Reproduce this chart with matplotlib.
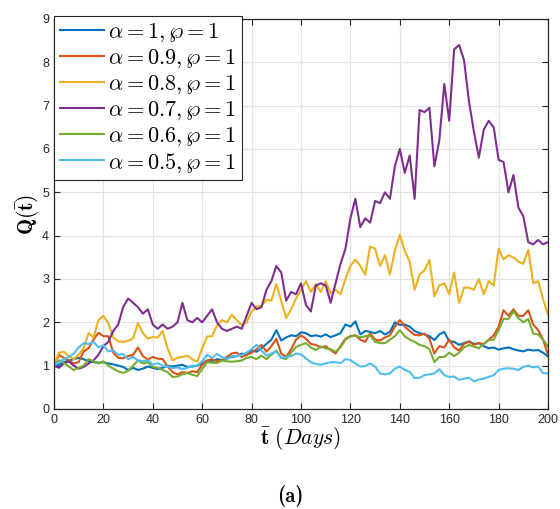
import numpy as np
import matplotlib
matplotlib.use("Agg")
import matplotlib.pyplot as plt
from matplotlib.font_manager import FontProperties
import os

plt.rcParams['mathtext.fontset'] = 'cm'
plt.rcParams['font.family'] = ['Liberation Sans', 'DejaVu Sans']

days = list(range(0, 201, 2))

q_a10 = [1.0, 1.02, 1.08, 1.12, 1.15, 1.18, 1.15, 1.1, 1.08, 1.07, 1.08, 1.05, 1.03, 1.0, 0.97, 0.9, 0.95, 0.9, 0.93, 0.98,
         0.95, 0.92, 0.95, 1.0, 0.98, 1.0, 1.02, 0.97, 0.98, 1.0, 1.05, 1.12, 1.1, 1.15, 1.13, 1.18, 1.2, 1.22, 1.28, 1.25,
         1.35, 1.32, 1.4, 1.5, 1.6, 1.82, 1.58, 1.65, 1.7, 1.68, 1.77, 1.75, 1.68, 1.7, 1.67, 1.72, 1.66, 1.7, 1.75, 1.95,
         1.9, 2.02, 1.72, 1.8, 1.78, 1.75, 1.8, 1.72, 1.78, 2.0, 1.94, 1.95, 1.9, 1.8, 1.75, 1.72, 1.68, 1.59, 1.72, 1.78,
         1.56, 1.55, 1.48, 1.52, 1.56, 1.5, 1.52, 1.45, 1.4, 1.42, 1.37, 1.4, 1.42, 1.38, 1.35, 1.33, 1.37, 1.35, 1.36, 1.3,
         1.21]
q_a09 = [1.0, 1.25, 1.18, 1.12, 1.05, 1.08, 1.33, 1.4, 1.6, 1.76, 1.68, 1.68, 1.3, 1.18, 1.17, 1.22, 1.25, 1.42, 1.22, 1.14,
         1.2, 1.16, 1.15, 0.98, 0.85, 0.8, 0.85, 0.83, 0.87, 0.85, 1.02, 1.12, 1.15, 1.1, 1.13, 1.2, 1.28, 1.3, 1.2, 1.25,
         1.3, 1.38, 1.48, 1.32, 1.45, 1.62, 1.28, 1.2, 1.38, 1.6, 1.7, 1.62, 1.5, 1.48, 1.42, 1.45, 1.36, 1.28, 1.45, 1.62,
         1.68, 1.7, 1.6, 1.55, 1.75, 1.6, 1.58, 1.65, 1.7, 1.9, 2.05, 1.9, 1.8, 1.71, 1.7, 1.74, 1.62, 1.28, 1.45, 1.42,
         1.6, 1.42, 1.35, 1.5, 1.56, 1.48, 1.52, 1.5, 1.6, 1.7, 1.9, 2.28, 2.15, 2.3, 2.15, 2.15, 2.28, 1.95, 1.82, 1.6,
         1.25]
q_a08 = [1.0, 1.3, 1.32, 1.22, 1.15, 1.25, 1.4, 1.75, 1.65, 2.05, 2.15, 1.98, 1.65, 1.56, 1.55, 1.57, 1.63, 1.98, 1.75, 1.62,
         1.66, 1.65, 1.8, 1.4, 1.12, 1.18, 1.2, 1.23, 1.15, 1.09, 1.4, 1.67, 1.68, 1.93, 2.05, 2.0, 2.17, 2.05, 1.94, 2.0,
         2.25, 2.36, 2.38, 2.52, 2.5, 2.88, 2.5, 2.1, 2.3, 2.55, 2.75, 2.95, 2.7, 2.88, 2.7, 2.95, 2.67, 2.75, 2.65, 3.0,
         3.3, 3.45, 3.3, 3.1, 3.75, 3.7, 3.3, 3.55, 3.1, 3.65, 4.02, 3.65, 3.4, 2.75, 3.1, 3.2, 3.44, 2.6, 2.85, 2.9,
         2.65, 3.15, 2.45, 2.8, 2.8, 2.75, 3.0, 2.65, 2.95, 2.85, 3.7, 3.45, 3.55, 3.5, 3.4, 3.35, 3.67, 2.9, 2.95, 2.54,
         2.17]
q_a07 = [1.0, 0.95, 1.05, 1.1, 1.0, 0.93, 0.97, 1.05, 1.12, 1.25, 1.45, 1.55, 1.8, 1.95, 2.35, 2.55, 2.45, 2.35, 2.2, 2.3,
         1.95, 1.85, 1.95, 1.85, 1.9, 2.0, 2.45, 2.05, 2.0, 2.1, 2.0, 2.15, 2.3, 2.0, 1.85, 1.8, 1.85, 1.9, 1.85, 2.15,
         2.45, 2.3, 2.35, 2.75, 2.95, 3.3, 3.15, 2.5, 2.7, 2.65, 2.9, 2.4, 2.25, 2.85, 2.9, 2.85, 2.45, 2.9, 3.35, 3.7,
         4.4, 4.85, 4.2, 4.4, 4.3, 4.8, 4.75, 5.0, 4.85, 5.6, 6.0, 5.45, 5.85, 4.85, 6.9, 6.85, 6.95, 5.6, 6.2, 7.5,
         6.65, 8.3, 8.4, 8.05, 7.1, 6.4, 5.8, 6.45, 6.65, 6.5, 5.75, 5.7, 5.0, 5.4, 4.65, 4.45, 3.85, 3.8, 3.9, 3.8,
         3.85]
q_a06 = [1.0, 1.12, 1.06, 0.98, 0.9, 0.95, 1.0, 1.15, 1.1, 1.05, 1.1, 1.0, 0.93, 0.87, 0.83, 0.88, 1.0, 1.12, 1.05, 1.08,
         0.97, 0.95, 0.9, 0.85, 0.74, 0.75, 0.8, 0.83, 0.79, 0.76, 0.92, 1.08, 1.07, 1.06, 1.12, 1.1, 1.09, 1.1, 1.12, 1.18,
         1.2, 1.15, 1.23, 1.15, 1.25, 1.35, 1.18, 1.15, 1.3, 1.43, 1.48, 1.52, 1.42, 1.36, 1.44, 1.4, 1.38, 1.32, 1.42, 1.6,
         1.67, 1.7, 1.65, 1.68, 1.7, 1.55, 1.52, 1.52, 1.6, 1.68, 1.82, 1.68, 1.6, 1.55, 1.48, 1.45, 1.38, 1.08, 1.2, 1.2,
         1.3, 1.22, 1.3, 1.42, 1.48, 1.44, 1.4, 1.5, 1.59, 1.6, 1.82, 2.08, 2.08, 2.25, 2.1, 2.0, 2.08, 1.74, 1.72, 1.6,
         1.44]
q_a05 = [1.0, 1.08, 1.15, 1.2, 1.28, 1.42, 1.52, 1.5, 1.55, 1.42, 1.47, 1.33, 1.35, 1.25, 1.27, 1.15, 1.2, 1.12, 1.1, 1.12,
         1.02, 1.06, 1.0, 0.98, 0.94, 0.96, 0.92, 0.95, 1.0, 1.0, 1.1, 1.25, 1.18, 1.27, 1.2, 1.15, 1.22, 1.22, 1.25, 1.3,
         1.38, 1.48, 1.35, 1.23, 1.28, 1.33, 1.18, 1.2, 1.22, 1.28, 1.26, 1.17, 1.08, 1.04, 1.02, 1.05, 1.08, 1.08, 1.06, 1.15,
         1.13, 1.05, 0.98, 0.99, 1.05, 0.98, 0.82, 0.8, 0.82, 0.93, 0.98, 0.9, 0.86, 0.71, 0.72, 0.78, 0.8, 0.82, 0.92, 0.78,
         0.74, 0.75, 0.67, 0.7, 0.72, 0.64, 0.68, 0.7, 0.74, 0.78, 0.9, 0.93, 0.94, 0.93, 0.9, 0.97, 1.0, 0.96, 0.98, 0.83,
         0.82]

series = [q_a10, q_a09, q_a08, q_a07, q_a06, q_a05]
labels = [r'$\alpha=1,\wp=1$', r'$\alpha=0.9,\wp=1$', r'$\alpha=0.8,\wp=1$',
          r'$\alpha=0.7,\wp=1$', r'$\alpha=0.6,\wp=1$', r'$\alpha=0.5,\wp=1$']
colors = ['#0072BD', '#D95319', '#EDB120', '#7E2F8E', '#77AC30', '#4DBEEE']
x_ticks = list(range(0, 201, 20))
y_ticks = list(range(0, 10))

fig = plt.figure(figsize=(5.6, 5.09), dpi=100)
ax = fig.add_axes([0.0964, 0.1965, 0.8822, 0.7662])
for ys, lab, c in zip(series, labels, colors):
    ax.plot(days, ys, color=c, lw=1.5, label=lab)

ax.set_xlim(0, 200)
ax.set_ylim(0, 9)
ax.set_xticks(x_ticks)
ax.set_yticks(y_ticks)
ax.grid(True, color='#e3e3e3', lw=0.9)
ax.set_axisbelow(True)
ax.tick_params(direction='in', top=True, right=True, labelsize=9,
               colors='#262626', length=4, width=0.8)
for s in ax.spines.values():
    s.set_color('#262626')
    s.set_linewidth(0.9)

ax.set_xlabel(r'$\bar{\mathbf{t}}\ (Days)$', fontsize=15.5, labelpad=0)
ax.set_ylabel(r'$\mathbf{Q}(\bar{\mathbf{t}})$', fontsize=15.5, labelpad=0)

leg = ax.legend(loc='upper left', bbox_to_anchor=(0.0, 1.008), fontsize=16,
                frameon=True, fancybox=False, framealpha=1.0,
                borderaxespad=0.0, handlelength=2.0, labelspacing=0.14,
                borderpad=0.25, handletextpad=0.2)
leg.get_frame().set_edgecolor('#262626')
leg.get_frame().set_linewidth(0.8)

cmb = os.path.join(matplotlib.get_data_path(), 'fonts', 'ttf', 'cmb10.ttf')
if os.path.exists(cmb):
    cap_fp = FontProperties(fname=cmb, size=15)
else:
    cap_fp = FontProperties(family='Liberation Serif', weight='bold', size=15)
fig.text(0.518, 1 - 496 / 509, '(a)', ha='center', va='center', fontproperties=cap_fp)

fig.savefig('out.png', dpi=100)
